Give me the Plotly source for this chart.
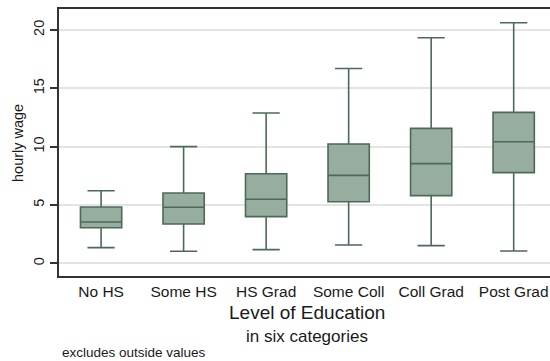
import plotly.graph_objects as go

categories = ["No HS", "Some HS", "HS Grad", "Some Coll", "Coll Grad", "Post Grad"]
lower_whisker = [1.34, 1.03, 1.17, 1.57, 1.51, 1.05]
q1_values = [3.05, 3.37, 4.00, 5.28, 5.80, 7.77]
median_values = [3.54, 4.80, 5.49, 7.54, 8.54, 10.42]
q3_values = [4.83, 6.03, 7.68, 10.23, 11.57, 12.94]
upper_whisker = [6.22, 10.00, 12.88, 16.70, 19.34, 20.62]
y_ticks = [0, 5, 10, 15, 20]

W, H = 550, 361
ML, MR, MT, MB = 59, 0, 9, 85

positions = list(range(len(categories)))

fig = go.Figure()
fig.add_trace(go.Box(
    x=positions,
    q1=q1_values,
    median=median_values,
    q3=q3_values,
    lowerfence=lower_whisker,
    upperfence=upper_whisker,
    width=0.5,
    whiskerwidth=0.66,
    fillcolor="#97ad9f",
    line=dict(color="#4b6b58", width=1.6),
    boxpoints=False,
    showlegend=False,
    hoverinfo="skip",
))

fig.update_layout(
    width=W, height=H,
    margin=dict(l=ML, r=MR, t=MT, b=MB),
    paper_bgcolor="white",
    plot_bgcolor="white",
    font=dict(family="Liberation Sans, Arial, sans-serif", color="#1a1a1a", size=13),
    xaxis=dict(
        range=[-0.51, 5.44],
        tickvals=positions,
        ticktext=categories,
        showgrid=False,
        zeroline=False,
        showline=True,
        mirror=True,
        linecolor="#333333",
        linewidth=2,
        ticks="",
        tickfont=dict(size=15.5),
        fixedrange=True,
    ),
    yaxis=dict(
        range=[-1.09, 21.8],
        tickvals=y_ticks,
        ticktext=[str(v) for v in y_ticks],
        tickangle=-90,
        showgrid=True,
        gridcolor="#e4e4e4",
        gridwidth=1.5,
        zeroline=False,
        showline=True,
        linecolor="#333333",
        linewidth=2,
        ticks="outside",
        ticklen=7,
        tickcolor="#333333",
        tickwidth=1.5,
        tickfont=dict(size=14.5),
        fixedrange=True,
    ),
)

pw = W - ML - MR
ph = H - MT - MB
def px(xpix):
    return (xpix - ML) / pw
def py(ypix):
    return 1 - (ypix - MT) / ph

fig.add_annotation(text="hourly wage", x=px(18), y=py(143), xref="paper", yref="paper",
                   textangle=-90, showarrow=False, font=dict(size=14.5),
                   xanchor="center", yanchor="middle")
fig.add_annotation(text="Level of Education", x=px(307), y=py(312), xref="paper", yref="paper",
                   showarrow=False, font=dict(size=19), xanchor="center", yanchor="middle")
fig.add_annotation(text="in six categories", x=px(307), y=py(337), xref="paper", yref="paper",
                   showarrow=False, font=dict(size=17), xanchor="center", yanchor="middle")
fig.add_annotation(text="excludes outside values", x=px(60), y=py(352), xref="paper", yref="paper",
                   showarrow=False, font=dict(size=13.5), xanchor="left", yanchor="middle")

fig.write_html("out.html", config={"displayModeBar": False},
               post_script="document.body.style.margin='0';document.body.style.overflow='hidden';")
